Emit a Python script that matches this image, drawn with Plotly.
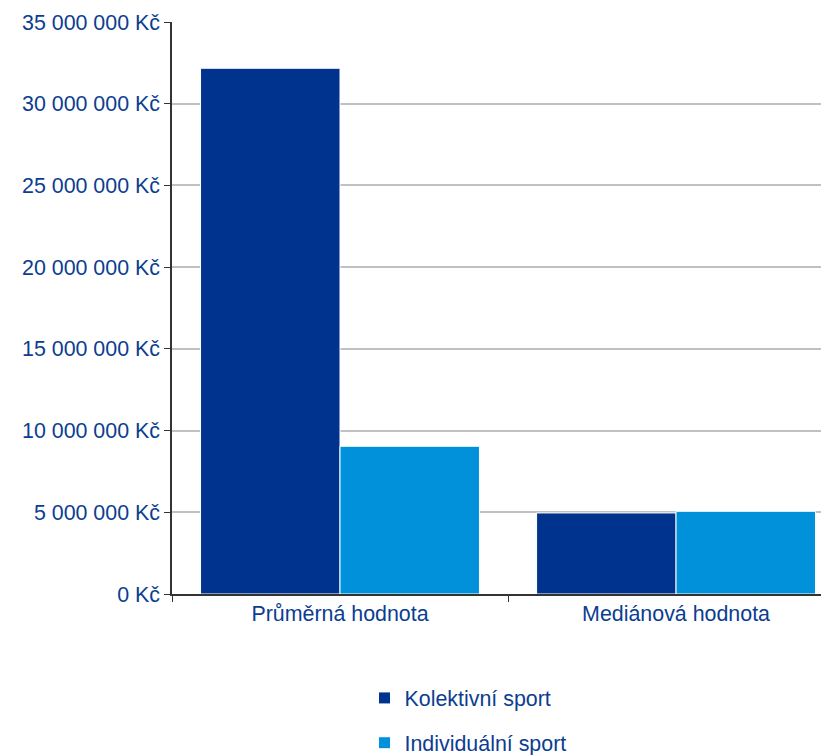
import plotly.graph_objects as go

categories = ["Průměrná hodnota", "Mediánová hodnota"]
kolektivni = [32170000, 4960000]
individualni = [9040000, 5060000]
tick_vals = [0, 5000000, 10000000, 15000000, 20000000, 25000000, 30000000, 35000000]
tick_text = ["0 Kč", "5 000 000 Kč", "10 000 000 Kč", "15 000 000 Kč", "20 000 000 Kč",
             "25 000 000 Kč", "30 000 000 Kč", "35 000 000 Kč"]

TXT = "#0B3D91"
FONT = "Liberation Sans, Arial, sans-serif"
FS = 21.4

fig = go.Figure()
fig.add_trace(go.Bar(name="Kolektivní sport", x=categories, y=kolektivni,
                     marker=dict(color="#00338D", line=dict(color="white", width=1)),
                     legendgroup="a"))
fig.add_trace(go.Bar(name="Individuální sport", x=categories, y=individualni,
                     marker=dict(color="#0091DA", line=dict(color="white", width=1)),
                     legendgroup="b"))

fig.update_layout(
    width=829, height=747,
    margin=dict(l=164, r=0, t=14, b=161, autoexpand=False),
    paper_bgcolor="white", plot_bgcolor="white",
    barmode="group", bargap=0.17, bargroupgap=0,
    font=dict(family=FONT, size=FS, color=TXT),
    showlegend=True,
    legend=dict(x=0.2895, y=-0.146, xanchor="left", yanchor="top",
                orientation="v", tracegroupgap=14, font=dict(size=FS, color=TXT),
                itemwidth=30, bgcolor="rgba(0,0,0,0)"),
    xaxis=dict(type="category", range=[-0.5, 1.479], tickson="boundaries",
               ticks="outside", ticklen=6, tickcolor="#333", showline=True,
               linecolor="#333", linewidth=1.5, showgrid=False, automargin=False,
               tickfont=dict(family=FONT, size=FS, color=TXT)),
    yaxis=dict(range=[0, 35000000], tickvals=tick_vals, ticktext=tick_text,
               ticks="outside", ticklen=6, tickcolor="#333", showline=True,
               linecolor="#333", linewidth=1.5, showgrid=True, automargin=False,
               gridcolor="#C0C0C0", gridwidth=1.5, zeroline=False,
               tickfont=dict(family=FONT, size=FS, color=TXT)),
)

fig.write_html("out.html")
